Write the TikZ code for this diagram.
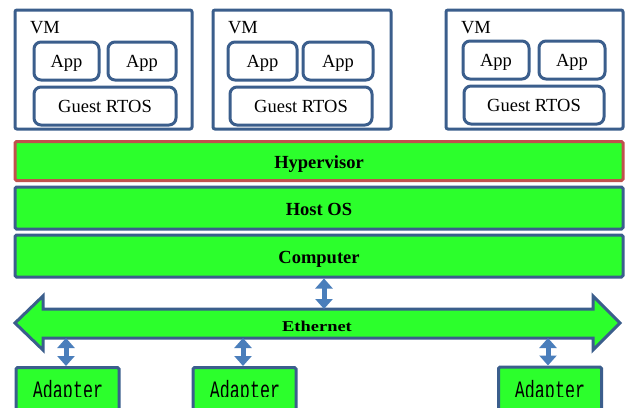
\documentclass[tikz,border=0pt]{standalone}
\usepackage{fontspec}
\setmainfont{Liberation Serif}
\newfontfamily\monofont{Liberation Mono}
\usetikzlibrary{arrows.meta}
\definecolor{gfill}{HTML}{2CFF2C}
\definecolor{bline}{HTML}{3B5E8C}
\definecolor{rline}{HTML}{C0504D}
\definecolor{ablue}{HTML}{4A7EBB}
\begin{document}
\begin{tikzpicture}[x=1pt,y=-1pt,
  vmbox/.style={draw=bline,line width=3pt,rounded corners=2pt,inner sep=0pt,minimum height=119pt},
  vmlabel/.style={inner sep=0pt,font=\fontsize{18.5}{20}\selectfont},
  appbox/.style={draw=bline,line width=3pt,rounded corners=7pt,inner sep=0pt,minimum height=38pt,text height=12.6pt,text depth=0pt,font=\fontsize{18.5}{20}\selectfont},
  layer/.style={draw=bline,line width=3pt,fill=gfill,rounded corners=1.5pt,inner sep=0pt,minimum width=608pt,text height=15pt,text depth=0pt,font=\bfseries\fontsize{18.5}{20}\selectfont},
  adapter/.style={draw=bline,line width=3pt,fill=gfill,rounded corners=1.5pt,inner sep=0pt,minimum width=103pt,minimum height=53pt},
  adtext/.style={inner sep=0pt,anchor=base,font=\monofont\fontsize{16.7}{18}\selectfont},
  link/.style={ablue,line width=5pt,{Triangle[width=17pt,length=10pt]}-{Triangle[width=17pt,length=10pt]}}]
\clip (0,0) rectangle (626,407);
\fill[white] (0,0) rectangle (626,407);
% VM 1
\node[vmbox,minimum width=177pt] (vm1) at (103.5,69.5) {};
\node[vmlabel] (vm1l) at (45,28) {VM};
\node[appbox,minimum width=65pt] (a11) at (66.5,61) {App};
\node[appbox,minimum width=68pt] (a12) at (142,61) {App};
\node[appbox,minimum width=142pt] (g1) at (105,106) {Guest RTOS};
% VM 2
\node[vmbox,minimum width=178pt] (vm2) at (302,69.5) {};
\node[vmlabel] (vm2l) at (243,28) {VM};
\node[appbox,minimum width=69pt] (a21) at (262.5,61) {App};
\node[appbox,minimum width=70pt] (a22) at (338,61) {App};
\node[appbox,minimum width=142pt] (g2) at (301,106) {Guest RTOS};
% VM 3
\node[vmbox,minimum width=177pt] (vm3) at (534.5,69.5) {};
\node[vmlabel] (vm3l) at (476,28) {VM};
\node[appbox,minimum width=66pt] (a31) at (496,60) {App};
\node[appbox,minimum width=66pt] (a32) at (572,60) {App};
\node[appbox,minimum width=140pt] (g3) at (534,105) {Guest RTOS};
% layers
\node[layer,draw=rline,minimum height=39pt] (hyp) at (319,161) {Hypervisor};
\node[layer,minimum height=42pt] (host) at (319,208) {Host OS};
\node[layer,minimum height=42pt] (comp) at (319,256) {Computer};
% Ethernet
\draw[bline,line width=3pt,fill=gfill,line join=miter]
  (15,323) -- (43,296) -- (43,309) -- (593,309) -- (593,296) -- (620,323)
  -- (593,350) -- (593,338) -- (43,338) -- (43,350) -- cycle;
\node[inner sep=0pt,anchor=base,font=\bfseries\fontsize{15}{16}\selectfont] (eth) at (317,331.7) {\scalebox{1.23}[1]{Ethernet}};
\coordinate (e0) at (324,309);
\coordinate (e1) at (66,338);
\coordinate (e2) at (243,338);
\coordinate (e3) at (548,338);
% adapters
\node[adapter] (ad1) at (67.5,394) {};
\node[adapter] (ad2) at (244.5,394) {};
\node[adapter] (ad3) at (550,393.5) {};
\begin{scope}
\clip (0,0) rectangle (626,396.5);
\node[adtext] (t1) at (68,398.5) {\scalebox{1}[1.5]{Adapter}};
\node[adtext] (t2) at (245,398.5) {\scalebox{1}[1.5]{Adapter}};
\node[adtext] (t3) at (550,398) {\scalebox{1}[1.5]{Adapter}};
\end{scope}
% links
\draw[link] (comp.south -| e0) -- (e0);
\draw[link] (e1) -- (ad1.north -| e1);
\draw[link] (e2) -- (ad2.north -| e2);
\draw[link] (e3) -- (ad3.north -| e3);
\end{tikzpicture}
\end{document}
